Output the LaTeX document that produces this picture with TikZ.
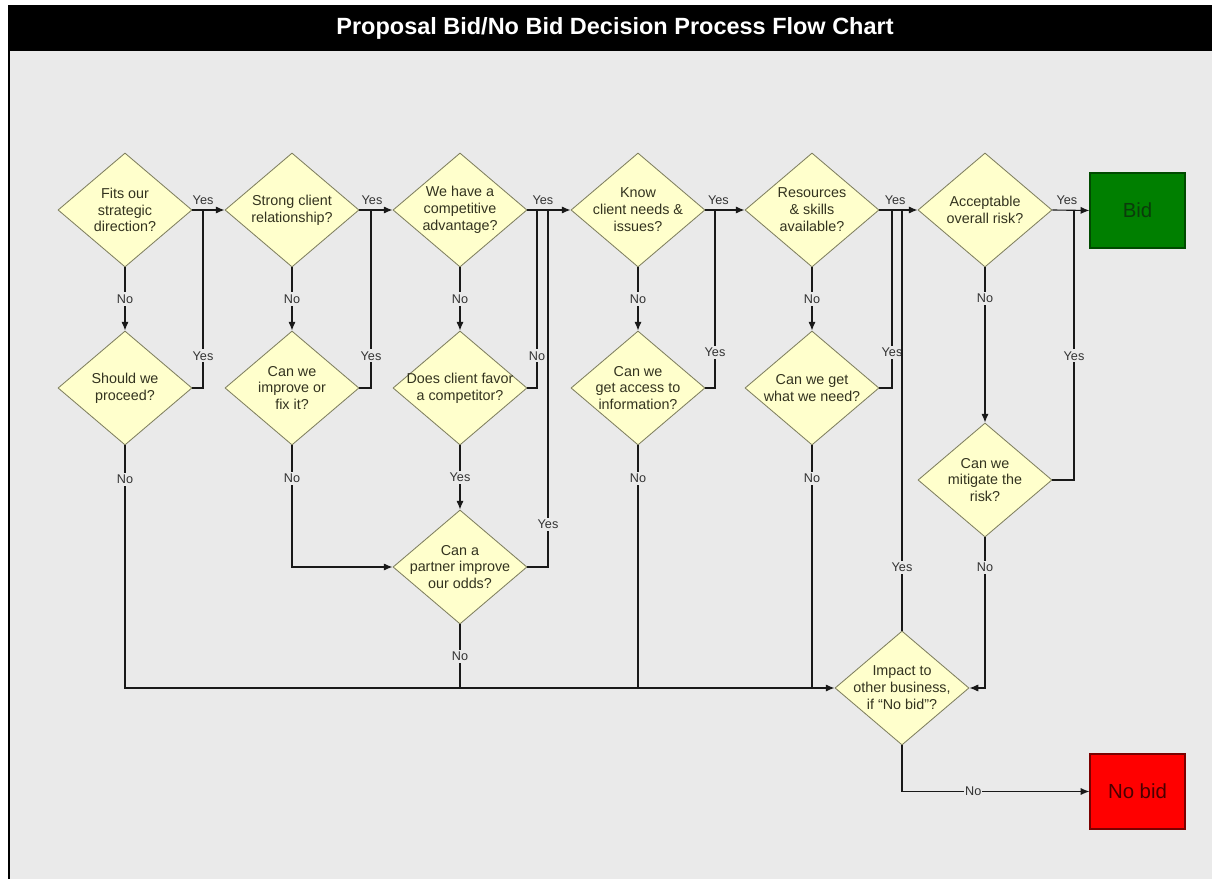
\documentclass[tikz,border=0pt]{standalone}
\usepackage{fontspec}
\setmainfont{Liberation Sans}
\usetikzlibrary{shapes.geometric}
\usetikzlibrary{arrows.meta}

\definecolor{panelgray}{HTML}{EAEAEA}
\definecolor{dfill}{HTML}{FFFFCC}
\definecolor{dline}{HTML}{7F7F5F}
\definecolor{dtext}{HTML}{33331F}
\definecolor{bidgreen}{HTML}{007F00}
\definecolor{bidedge}{HTML}{004A00}
\definecolor{bidtext}{HTML}{0B3B0B}
\definecolor{nobidred}{HTML}{FF0000}
\definecolor{nobidedge}{HTML}{7A0000}
\definecolor{nobidtext}{HTML}{4A0000}

\newcommand{\diafont}{\fontsize{10.2}{12}\selectfont}

\begin{document}
\begin{tikzpicture}[x=0.025cm, y=-0.025cm,
    decision/.style={diamond, draw=dline, fill=dfill, line width=0.6pt,
        minimum width=3.35cm, minimum height=2.85cm, inner sep=0pt,
        label={[align=center, font=\diafont, text=dtext]center:{#1}}},
    endbox/.style={rectangle, line width=0.8pt, minimum width=2.375cm,
        minimum height=1.875cm, font=\fontsize{14.5}{16}\selectfont},
    lbl/.style={fill=panelgray, inner sep=1.5pt, font=\fontsize{9}{10}\selectfont, text=black!80},
    flow/.style={draw=black!90, line width=0.8pt},
    arr/.style={flow, -{Latex[length=2.2mm, width=1.8mm]}}]

    \useasboundingbox (0,0) rectangle (1212,879);
    \fill[black] (8,5) rectangle (1212,51);
    \fill[panelgray] (8,51) rectangle (1212,879);
    \draw[line width=1pt] (9,51) -- (9,879);
    \node[font=\bfseries\fontsize{16.7}{20}\selectfont, text=white] (title) at (615,28) {Proposal Bid/No Bid Decision Process Flow Chart};

    \node[decision={Fits our\\strategic\\direction?}] (fits) at (125,210) {};
    \node[decision={Should we\\proceed?}] (proceed) at (125,388) {};
    \node[decision={Strong client\\relationship?}] (strong) at (292,210) {};
    \node[decision={Can we\\improve or\\fix it?}] (improve) at (292,388) {};
    \node[decision={We have a\\competitive\\advantage?}] (advantage) at (460,210) {};
    \node[decision={Does client favor\\a competitor?}] (favor) at (460,388) {};
    \node[decision={Can a\\partner improve\\our odds?}] (partner) at (460,567) {};
    \node[decision={Know\\client needs \&\\issues?}] (needs) at (638,210) {};
    \node[decision={Can we\\get access to\\information?}] (access) at (638,388) {};
    \node[decision={Resources\\\& skills\\available?}] (resources) at (812,210) {};
    \node[decision={Can we get\\what we need?}] (getwhat) at (812,388) {};
    \node[decision={Acceptable\\overall risk?}] (risk) at (985,210) {};
    \node[decision={Can we\\mitigate the\\risk?}] (mitigate) at (985,480) {};
    \node[decision={Impact to\\other business,\\if ``No bid''?}] (impact) at (902,688) {};

    \node[endbox, fill=bidgreen, draw=bidedge, text=bidtext] (bid) at (1137.5,210.5) {Bid};
    \node[endbox, fill=nobidred, draw=nobidedge, text=nobidtext] (nobid) at (1137.5,791.5) {No bid};

    \coordinate (j1) at (203,210);
    \coordinate (j2) at (371,210);
    \coordinate (j3a) at (537,210);
    \coordinate (j3b) at (548,210);
    \coordinate (j4) at (715,210);
    \coordinate (j5a) at (892,210);
    \coordinate (j6) at (1074,210);

    % yes along the top row
    \draw[arr] (fits.east) -- node[lbl, above=2pt, pos=0.33] {Yes} (strong.west);
    \draw[arr] (strong.east) -- node[lbl, above=2pt, pos=0.38] {Yes} (advantage.west);
    \draw[arr] (advantage.east) -- node[lbl, above=2pt, pos=0.36] {Yes} (needs.west);
    \draw[arr] (needs.east) -- node[lbl, above=2pt, pos=0.33] {Yes} (resources.west);
    \draw[arr] (resources.east) -- node[lbl, above=2pt, pos=0.41] {Yes} (risk.west);
    \draw[arr] (risk.east) -- node[lbl, above=2pt, pos=0.39] {Yes} (bid.west);

    % no down to the second row
    \draw[arr] (fits.south) -- node[lbl] {No} (proceed.north);
    \draw[arr] (strong.south) -- node[lbl] {No} (improve.north);
    \draw[arr] (advantage.south) -- node[lbl] {No} (favor.north);
    \draw[arr] (needs.south) -- node[lbl] {No} (access.north);
    \draw[arr] (resources.south) -- node[lbl] {No} (getwhat.north);
    \draw[arr] (risk.south) -- node[lbl, pos=0.2] {No} (mitigate.north);
    \draw[arr] (favor.south) -- node[lbl] {Yes} (partner.north);

    % back up into the top row
    \draw[flow] (proceed.east) -| node[lbl, pos=0.59] {Yes} (j1);
    \draw[flow] (improve.east) -| node[lbl, pos=0.59] {Yes} (j2);
    \draw[flow] (favor.east) -| node[lbl, pos=0.59] {No} (j3a);
    \draw[flow] (partner.east) -| node[lbl, pos=0.56] {Yes} (j3b);
    \draw[flow] (access.east) -| node[lbl, pos=0.6] {Yes} (j4);
    \draw[flow] (getwhat.east) -| node[lbl, pos=0.6] {Yes} (j5a);
    \draw[flow] (mitigate.east) -| node[lbl, pos=0.73] {Yes} (j6);
    \draw[flow] (impact.north) -- node[lbl, pos=0.15] {Yes} (impact.north |- risk.west);

    % no along the bottom
    \draw[arr] (proceed.south) |- node[lbl, pos=0.07] {No} (impact.west);
    \draw[arr] (improve.south) |- node[lbl, pos=0.135] {No} (partner.west);
    \draw[flow] (partner.south) -- node[lbl] {No} (partner.south |- impact.west);
    \draw[flow] (access.south) -- node[lbl, pos=0.136] {No} (access.south |- impact.west);
    \draw[flow] (getwhat.south) -- node[lbl, pos=0.136] {No} (getwhat.south |- impact.west);
    \draw[arr] (mitigate.south) |- node[lbl, pos=0.1] {No} (impact.east);
    \draw[arr] (impact.south) |- node[lbl, pos=0.69, inner sep=0.5pt] {No} (nobid.west);

\end{tikzpicture}
\end{document}
